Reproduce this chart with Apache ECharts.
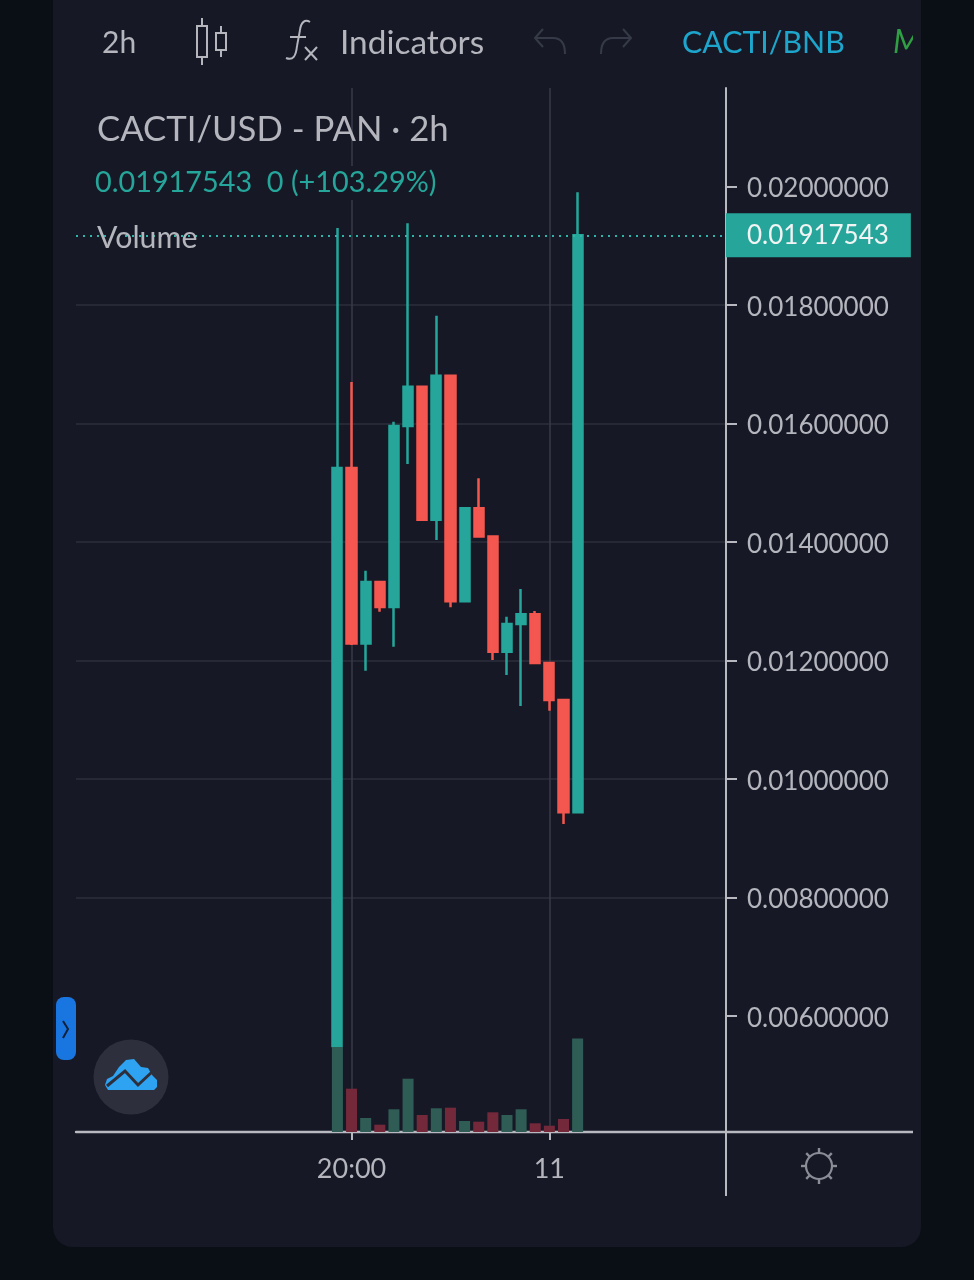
<!DOCTYPE html>
<html><head><meta charset="utf-8">
<style>html,body{margin:0;padding:0;background:#0a0f16}#c{width:974px;height:1280px}</style>
<script src="https://cdn.jsdelivr.net/npm/echarts@6/dist/echarts.min.js"></script>
</head><body><div id="c"></div>
<script>
const categories = ['8 06:00','8 08:00','8 10:00','8 12:00','8 14:00','8 16:00','8 18:00','8 20:00','8 22:00','9 00:00','9 02:00','9 04:00','9 06:00','9 08:00','9 10:00','9 12:00','9 14:00','9 16:00','9 18:00','9 20:00','9 22:00','10 00:00','10 02:00','10 04:00','10 06:00','10 08:00','10 10:00','10 12:00','10 14:00','10 16:00','10 18:00','10 20:00','10 22:00','11 00:00','11 02:00','11 04:00','11 06:00','11 08:00','11 10:00','11 12:00','11 14:00','11 16:00','11 18:00','11 20:00','11 22:00','12 00:00'];
const leadingEmpty = 18;
const opens  = [0.005494,0.015249,0.012287,0.013325,0.012903,0.015958,0.016621,0.014376,0.016807,0.012999,0.014569,0.014093,0.012148,0.012616,0.012780,0.011958,0.011333,0.009438];
const closes = [0.015249,0.012287,0.013325,0.012903,0.015958,0.016621,0.014376,0.016807,0.012999,0.014569,0.014093,0.012148,0.012616,0.012780,0.011958,0.011333,0.009438,0.01917543];
const lows   = [0.005494,0.012262,0.011828,0.012824,0.012233,0.015316,0.014376,0.014034,0.012898,0.012999,0.014093,0.012008,0.011755,0.011232,0.011958,0.011153,0.009241,0.009438];
const highs  = [0.019300,0.016700,0.013516,0.013325,0.016030,0.019379,0.016621,0.017819,0.016807,0.014569,0.015075,0.014093,0.012739,0.013207,0.012835,0.011958,0.011333,0.019902];
const volumes = [85,43.3,14,7.3,22.7,53.3,17,23.7,24.3,11,10.3,19.7,17,22.7,8.7,6.3,13,93.4];
const priceTicks = [0.006,0.008,0.010,0.012,0.014,0.016,0.018,0.020];
const timeTickCategories = ['9 20:00','11 00:00'];
const timeTickLabels = ['20:00','11'];
const lastPrice = 0.01917543;

const FONT = 'Lato';
const TXT = '#b4b5bd';
const UP = '#26a69a', DOWN = '#f4574f', UPV = '#2f5d56', DOWNV = '#74293b';
const PANEL = '#161925';
const pad = Array(leadingEmpty).fill('-');
const isTimeTick = (i, v) => timeTickCategories.includes(v);

const candleData = pad.concat(opens.map((o, i) => [o, closes[i], lows[i], highs[i]]));
const volumeData = pad.concat(volumes.map((v, i) => ({
  value: v, itemStyle: { color: closes[i] >= opens[i] ? UPV : DOWNV }
})));

const line = (x1, y1, x2, y2, stroke, lineWidth, z) => ({ type: 'line', z: z || 20, shape: { x1, y1, x2, y2 }, style: { stroke, lineWidth } });
const text = (x, y, t, size, fill, extra) => ({ type: 'text', z: 30, x, y, style: Object.assign({ text: t, font: `${size}px ${FONT}`, fill, textVerticalAlign: 'middle' }, extra || {}) });
const poly = (points, stroke, lineWidth, z) => ({ type: 'polyline', z: z || 30, shape: { points }, style: { fill: null, stroke, lineWidth } });
const curve = (x1, y1, cpx1, cpy1, cpx2, cpy2, x2, y2, stroke, lineWidth) => ({ type: 'bezierCurve', z: 30, shape: { x1, y1, cpx1, cpy1, cpx2, cpy2, x2, y2 }, style: { fill: null, stroke, lineWidth } });

const gearSpokes = [];
for (const [dx, dy] of [[1,0],[-1,0],[0,1],[0,-1],[.71,.71],[-.71,.71],[.71,-.71],[-.71,-.71]]) {
  gearSpokes.push(line(819 + dx * 13, 1166 + dy * 13, 819 + dx * 18, 1166 + dy * 18, '#8a8c96', 2.4, 30));
}

const chrome = [
  { type: 'rect', z: -10, shape: { x: 53, y: -30, width: 868, height: 1277, r: 20 }, style: { fill: PANEL } },
  { type: 'rect', z: 5, shape: { x: 85, y: 166, width: 368, height: 34 }, style: { fill: PANEL } },
  text(102, 43, '2h', 30, TXT),
  line(202, 18, 202, 65, TXT, 2), { type: 'rect', z: 30, shape: { x: 197, y: 26, width: 10, height: 31 }, style: { fill: PANEL, stroke: TXT, lineWidth: 2 } },
  line(221, 26, 221, 57, TXT, 2), { type: 'rect', z: 30, shape: { x: 216, y: 33, width: 10, height: 17 }, style: { fill: PANEL, stroke: TXT, lineWidth: 2 } },
  curve(286, 58, 293, 61, 296, 56, 297, 46, TXT, 2), line(297, 46, 300, 30, TXT, 2, 30), curve(300, 30, 301, 22, 305, 19, 310, 22, TXT, 2), line(290, 37, 306, 37, TXT, 2, 30),
  line(305, 47, 317, 60, TXT, 2, 30), line(317, 47, 305, 60, TXT, 2, 30),
  text(340, 43, 'Indicators', 33.4, TXT),
  poly([[543,29],[535,38],[543,47]], '#363a48', 2), line(535, 38, 553, 38, '#363a48', 2, 30), curve(553, 38, 561, 38, 565, 43, 565, 54, '#363a48', 2),
  poly([[623,29],[631,38],[623,47]], '#363a48', 2), line(631, 38, 613, 38, '#363a48', 2, 30), curve(613, 38, 605, 38, 601, 43, 601, 54, '#363a48', 2),
  text(682, 43, 'CACTI/BNB', 30.3, '#1ea5cc'),
  text(893, 43, 'M', 32, '#2f9e44', { font: `italic 32px ${FONT}` }),
  { type: 'rect', z: 31, shape: { x: 913, y: 20, width: 8, height: 44 }, style: { fill: PANEL } },
  text(97, 130, 'CACTI/USD - PAN · 2h', 34.7, TXT),
  text(95, 183, '0.01917543  0 (+103.29%)', 28.8, UP),
  text(97, 238, 'Volume', 30.3, TXT),
  line(726, 1132, 913, 1132, '#b8b9c0', 2.4),
  line(726, 1132, 726, 1196, '#b8b9c0', 2),
  { type: 'rect', z: 40, shape: { x: 56, y: 997, width: 20, height: 63, r: 8 }, style: { fill: '#1976e0' } },
  poly([[63,1021],[68,1029],[63,1038]], '#12203a', 2, 41),
  { type: 'circle', z: 40, shape: { cx: 131, cy: 1077, r: 37.5 }, style: { fill: '#2d303c' } },
  { type: 'polygon', z: 41, shape: { points: [[105,1085],[107,1079],[113,1076],[119,1067],[126,1060],[134,1059],[141,1067],[148,1068],[152,1075],[157,1080],[157,1087],[154,1090],[108,1090]] }, style: { fill: '#2ea3f2' } },
  poly([[107,1086],[125,1071],[138,1085],[152,1072]], '#2d303c', 3, 42),
  { type: 'circle', z: 30, shape: { cx: 819, cy: 1166, r: 13 }, style: { fill: null, stroke: '#8a8c96', lineWidth: 2.2 } },
  ...gearSpokes
];

const chart = echarts.init(document.getElementById('c'), null, { renderer: 'canvas', width: 974, height: 1280 });
chart.setOption({
  animation: false,
  backgroundColor: '#0a0f16',
  textStyle: { fontFamily: FONT },
  graphic: { elements: chrome },
  grid: [
    { left: 76, right: 248, top: 88, height: 1046.5 },
    { left: 76, right: 248, top: 1032, height: 100 }
  ],
  xAxis: [
    { type: 'category', gridIndex: 0, data: categories, boundaryGap: true,
      axisLine: { show: false }, axisTick: { show: false }, axisLabel: { show: false },
      splitLine: { show: true, interval: isTimeTick, alignWithLabel: true, lineStyle: { color: '#383b47', width: 1.5 } } },
    { type: 'category', gridIndex: 1, data: categories, boundaryGap: true,
      axisLine: { show: true, lineStyle: { color: '#b8b9c0', width: 2.4 } },
      axisTick: { show: true, interval: isTimeTick, alignWithLabel: true, length: 8, lineStyle: { color: '#b8b9c0', width: 2 } },
      axisLabel: { show: true, interval: isTimeTick, margin: 24, color: TXT, fontSize: 27, fontFamily: FONT,
        formatter: v => timeTickLabels[timeTickCategories.indexOf(v)] || '' },
      splitLine: { show: false } }
  ],
  yAxis: [
    { type: 'value', gridIndex: 0, position: 'right', min: 0.004, max: 0.0216624, interval: 0.002,
      axisLine: { show: true, lineStyle: { color: '#b8b9c0', width: 2 } },
      axisTick: { show: true, customValues: priceTicks, length: 11, lineStyle: { color: '#b8b9c0', width: 2 } },
      axisLabel: { customValues: priceTicks, margin: 21, color: TXT, fontSize: 26, fontFamily: FONT, formatter: v => `{p|${v.toFixed(8)}}`,
        rich: { p: { color: TXT, fontSize: 26, fontFamily: FONT, padding: [5, 0, 0, 0] } } },
      splitLine: { show: true, showMinLine: false, showMaxLine: false, lineStyle: { color: '#2c2f3b', width: 1.5 } } },
    { type: 'value', gridIndex: 1, min: 0, max: 100, show: false, splitLine: { show: false } }
  ],
  series: [
    { type: 'candlestick', name: 'CACTI/USD', xAxisIndex: 0, yAxisIndex: 0, data: candleData, barWidth: 9.6, z: 2,
      itemStyle: { color: UP, color0: DOWN, borderColor: UP, borderColor0: DOWN, borderWidth: 2.5 },
      markLine: { silent: true, symbol: 'none', animation: false, precision: 8,
        lineStyle: { color: '#2fb5a7', type: [2, 5], width: 2 },
        label: { show: true, position: 'end', distance: 0, formatter: lastPrice.toFixed(8), color: '#f2f4f4', fontSize: 26, fontFamily: FONT,
          backgroundColor: UP, padding: [11, 22, 7, 21] },
        data: [{ yAxis: lastPrice }] } },
    { type: 'bar', name: 'Volume', xAxisIndex: 1, yAxisIndex: 1, data: volumeData, barWidth: 11, z: 3 }
  ]
});
</script></body></html>
